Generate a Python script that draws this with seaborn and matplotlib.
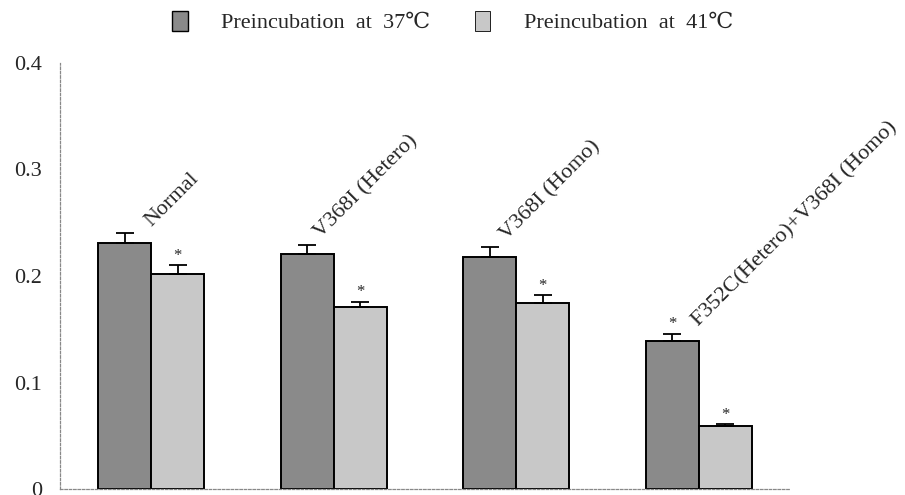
import numpy as np
import pandas as pd
import matplotlib
matplotlib.use("Agg")
import matplotlib.pyplot as plt
from matplotlib.patches import Patch
import seaborn as sns

# ---- data ----
categories = ["Normal", "V368I (Hetero)", "V368I (Homo)", "F352C(Hetero)+V368I (Homo)"]
conditions = ["Preincubation  at  37\u2103", "Preincubation  at  41\u2103"]
vals37 = [0.231, 0.221, 0.218, 0.139]
vals41 = [0.202, 0.171, 0.175, 0.059]
err37 = [0.009, 0.008, 0.009, 0.007]
err41 = [0.008, 0.005, 0.007, 0.002]
sig37 = [False, False, False, True]
sig41 = [True, True, True, True]
yticks = [0, 0.1, 0.2, 0.3, 0.4]
ytick_labels = ["0", "0.1", "0.2", "0.3", "0.4"]
label_dx = [0.0, -0.07, -0.05, 0.0]

dark = "#8a8a8a"
light = "#c8c8c8"

df = pd.DataFrame({
    "category": categories * 2,
    "condition": [conditions[0]] * 4 + [conditions[1]] * 4,
    "value": vals37 + vals41,
})

sns.set_style("white")
plt.rcParams["font.family"] = ["Liberation Serif", "DejaVu Serif"]

fig = plt.figure(figsize=(9.05, 4.95), dpi=100)
ax = fig.add_axes([60 / 905, 1 - 489 / 495, 730 / 905, 426 / 495])

sns.barplot(data=df, x="category", y="value", hue="condition",
            palette=[dark, light], width=0.58, gap=0.0, saturation=1,
            edgecolor="black", linewidth=1.4, errorbar=None, legend=False, ax=ax)

bars = [p for p in ax.patches][:8]
errs = err37 + err41
sigs = sig37 + sig41
for p, e, s in zip(bars, errs, sigs):
    xc = p.get_x() + p.get_width() / 2
    h = p.get_height()
    ax.errorbar(xc, h, yerr=[[0], [e]], fmt="none", ecolor="black",
                elinewidth=1.3, capsize=6.5, capthick=1.3)
    if s:
        ax.text(xc, h + e + 0.001, "*", ha="center", va="bottom", fontsize=12)

for i, cat in enumerate(categories):
    top = vals37[i] + err37[i]
    ax.text(i + label_dx[i], top + 0.006, cat, rotation=45, rotation_mode="anchor",
            ha="left", va="baseline", fontsize=16)

ax.set_xlim(-0.5, 3.5)
ax.set_ylim(0, 0.4)
ax.set_yticks(yticks)
ax.set_yticklabels(ytick_labels, fontsize=16)
ax.set_xticks([])
ax.set_xticks([0.5, 1.5, 2.5, 3.5], minor=True)
ax.tick_params(axis="y", direction="in", length=3, color="#999999", pad=13)
ax.tick_params(axis="x", which="minor", direction="in", length=5, color="#aaaaaa")
ax.set_xlabel("")
ax.set_ylabel("")
for side in ["top", "right"]:
    ax.spines[side].set_visible(False)
for side in ["left", "bottom"]:
    ax.spines[side].set_color("#888888")
    ax.spines[side].set_linewidth(0.9)
    ax.spines[side].set_linestyle((0, (2, 1.5)))

handles = [Patch(facecolor=dark, edgecolor="black", linewidth=1.0),
           Patch(facecolor=light, edgecolor="black", linewidth=0.6)]
fig.legend(handles, conditions, loc="center", bbox_to_anchor=(0.5, 1 - 22 / 495),
           ncol=2, frameon=False, fontsize=16, handlelength=0.7, handleheight=1.0,
           handletextpad=1.5, columnspacing=2.0)

fig.savefig("out.png", dpi=100)
